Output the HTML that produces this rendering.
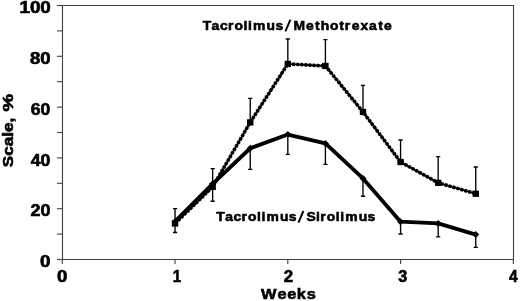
<!DOCTYPE html>
<html><head><meta charset="utf-8"><style>
html,body{margin:0;padding:0;background:#fff;}
body{width:520px;height:301px;overflow:hidden;font-family:"Liberation Sans",sans-serif;}
svg{display:block;will-change:transform;}
</style></head><body>
<svg width="520" height="301" viewBox="0 0 520 301">
<path d="M62.5 5.5H513.5V259.5H62.5Z" fill="none" stroke="#404040" stroke-width="1.1"/>
<path d="M57 259.50H62.5" stroke="#404040" stroke-width="1.1"/>
<path d="M57 234.10H62.5" stroke="#404040" stroke-width="1.1"/>
<path d="M57 208.70H62.5" stroke="#404040" stroke-width="1.1"/>
<path d="M57 183.30H62.5" stroke="#404040" stroke-width="1.1"/>
<path d="M57 157.90H62.5" stroke="#404040" stroke-width="1.1"/>
<path d="M57 132.50H62.5" stroke="#404040" stroke-width="1.1"/>
<path d="M57 107.10H62.5" stroke="#404040" stroke-width="1.1"/>
<path d="M57 81.70H62.5" stroke="#404040" stroke-width="1.1"/>
<path d="M57 56.30H62.5" stroke="#404040" stroke-width="1.1"/>
<path d="M57 30.90H62.5" stroke="#404040" stroke-width="1.1"/>
<path d="M57 5.50H62.5" stroke="#404040" stroke-width="1.1"/>
<path d="M62.30 259.5V264" stroke="#404040" stroke-width="1.1"/>
<path d="M175.06 259.5V264" stroke="#404040" stroke-width="1.1"/>
<path d="M287.82 259.5V264" stroke="#404040" stroke-width="1.1"/>
<path d="M400.58 259.5V264" stroke="#404040" stroke-width="1.1"/>
<path d="M513.34 259.5V264" stroke="#404040" stroke-width="1.1"/>
<path d="M175.06 223.43V208.60M172.96 208.60H177.16" stroke="#000" stroke-width="1.35" fill="none"/>
<path d="M175.06 221.40V232.50M172.96 232.50H177.16" stroke="#000" stroke-width="1.35" fill="none"/>
<path d="M212.65 186.86V168.60M210.55 168.60H214.75" stroke="#000" stroke-width="1.35" fill="none"/>
<path d="M212.65 183.81V201.20M210.55 201.20H214.75" stroke="#000" stroke-width="1.35" fill="none"/>
<path d="M250.23 122.34V98.30M248.13 98.30H252.33" stroke="#000" stroke-width="1.35" fill="none"/>
<path d="M250.23 148.25V169.30M248.13 169.30H252.33" stroke="#000" stroke-width="1.35" fill="none"/>
<path d="M287.82 63.92V39.00M285.72 39.00H289.92" stroke="#000" stroke-width="1.35" fill="none"/>
<path d="M287.82 134.53V154.30M285.72 154.30H289.92" stroke="#000" stroke-width="1.35" fill="none"/>
<path d="M325.41 65.95V39.60M323.31 39.60H327.51" stroke="#000" stroke-width="1.35" fill="none"/>
<path d="M325.41 143.42V164.40M323.31 164.40H327.51" stroke="#000" stroke-width="1.35" fill="none"/>
<path d="M362.99 111.93V85.30M360.89 85.30H365.09" stroke="#000" stroke-width="1.35" fill="none"/>
<path d="M362.99 178.47V196.20M360.89 196.20H365.09" stroke="#000" stroke-width="1.35" fill="none"/>
<path d="M400.58 161.96V140.00M398.48 140.00H402.68" stroke="#000" stroke-width="1.35" fill="none"/>
<path d="M400.58 221.65V234.00M398.48 234.00H402.68" stroke="#000" stroke-width="1.35" fill="none"/>
<path d="M438.17 182.79V156.60M436.07 156.60H440.27" stroke="#000" stroke-width="1.35" fill="none"/>
<path d="M438.17 223.43V236.90M436.07 236.90H440.27" stroke="#000" stroke-width="1.35" fill="none"/>
<path d="M475.75 193.71V167.00M473.65 167.00H477.85" stroke="#000" stroke-width="1.35" fill="none"/>
<path d="M475.75 234.61V247.40M473.65 247.40H477.85" stroke="#000" stroke-width="1.35" fill="none"/>
<polyline points="175.06,221.40 212.65,183.81 250.23,148.25 287.82,134.53 325.41,143.42 362.99,178.47 400.58,221.65 438.17,223.43 475.75,234.61" fill="none" stroke="#000" stroke-width="3.8" stroke-linejoin="round"/>
<path d="M175.06 217.90L178.56 221.40L175.06 224.90L171.56 221.40Z" fill="#000"/>
<path d="M212.65 180.31L216.15 183.81L212.65 187.31L209.15 183.81Z" fill="#000"/>
<path d="M250.23 144.75L253.73 148.25L250.23 151.75L246.73 148.25Z" fill="#000"/>
<path d="M287.82 131.03L291.32 134.53L287.82 138.03L284.32 134.53Z" fill="#000"/>
<path d="M325.41 139.92L328.91 143.42L325.41 146.92L321.91 143.42Z" fill="#000"/>
<path d="M362.99 174.97L366.49 178.47L362.99 181.97L359.49 178.47Z" fill="#000"/>
<path d="M400.58 218.15L404.08 221.65L400.58 225.15L397.08 221.65Z" fill="#000"/>
<path d="M438.17 219.93L441.67 223.43L438.17 226.93L434.67 223.43Z" fill="#000"/>
<path d="M475.75 231.11L479.25 234.61L475.75 238.11L472.25 234.61Z" fill="#000"/>
<polyline points="175.06,223.43 212.65,186.86 250.23,122.34 287.82,63.92 325.41,65.95 362.99,111.93 400.58,161.96 438.17,182.79 475.75,193.71" fill="none" stroke="#000" stroke-width="1.9" stroke-linejoin="miter"/>
<polyline points="175.06,223.43 212.65,186.86 250.23,122.34 287.82,63.92 325.41,65.95 362.99,111.93 400.58,161.96 438.17,182.79 475.75,193.71" fill="none" stroke="#000" stroke-width="3.5" stroke-dasharray="2.9 1.2" stroke-linejoin="miter"/>
<rect x="171.86" y="220.33" width="6.4" height="6.3" fill="#000"/>
<rect x="209.45" y="183.76" width="6.4" height="6.3" fill="#000"/>
<rect x="247.03" y="119.24" width="6.4" height="6.3" fill="#000"/>
<rect x="284.62" y="60.82" width="6.4" height="6.3" fill="#000"/>
<rect x="322.21" y="62.85" width="6.4" height="6.3" fill="#000"/>
<rect x="359.79" y="108.83" width="6.4" height="6.3" fill="#000"/>
<rect x="397.38" y="158.86" width="6.4" height="6.3" fill="#000"/>
<rect x="434.97" y="179.69" width="6.4" height="6.3" fill="#000"/>
<rect x="472.55" y="190.61" width="6.4" height="6.3" fill="#000"/>
<text transform="translate(40.50 267.24) scale(1.1844 1)" x="-0.37" y="0" font-family="Liberation Sans, sans-serif" font-weight="bold" stroke="#000" stroke-width="0.6" font-size="15.8">0</text>
<text transform="translate(30.80 216.44) scale(1.1356 1)" x="-0.28" y="0" font-family="Liberation Sans, sans-serif" font-weight="bold" stroke="#000" stroke-width="0.6" font-size="15.8">20</text>
<text transform="translate(30.80 165.64) scale(1.1146 1)" x="0.03" y="0" font-family="Liberation Sans, sans-serif" font-weight="bold" stroke="#000" stroke-width="0.6" font-size="15.8">40</text>
<text transform="translate(31.20 114.84) scale(1.1072 1)" x="-0.31" y="0" font-family="Liberation Sans, sans-serif" font-weight="bold" stroke="#000" stroke-width="0.6" font-size="15.8">60</text>
<text transform="translate(30.20 64.04) scale(1.1750 1)" x="-0.25" y="0" font-family="Liberation Sans, sans-serif" font-weight="bold" stroke="#000" stroke-width="0.6" font-size="15.8">80</text>
<text transform="translate(20.30 13.24) scale(1.1934 1)" x="-0.74" y="0" font-family="Liberation Sans, sans-serif" font-weight="bold" stroke="#000" stroke-width="0.6" font-size="15.8">100</text>
<text transform="translate(57.30 281.70) scale(1.1778 1)" x="-0.37" y="0" font-family="Liberation Sans, sans-serif" font-weight="bold" stroke="#000" stroke-width="0.6" font-size="15.8">0</text>
<text transform="translate(173.30 281.70) scale(0.9589 1)" x="-0.68" y="0" font-family="Liberation Sans, sans-serif" font-weight="bold" stroke="#000" stroke-width="0.6" font-size="15.8">1</text>
<text transform="translate(284.00 281.70) scale(1.0714 1)" x="-0.27" y="0" font-family="Liberation Sans, sans-serif" font-weight="bold" stroke="#000" stroke-width="0.6" font-size="15.8">2</text>
<text transform="translate(398.30 281.70) scale(1.0250 1)" x="-0.07" y="0" font-family="Liberation Sans, sans-serif" font-weight="bold" stroke="#000" stroke-width="0.6" font-size="15.8">3</text>
<text transform="translate(509.00 281.70) scale(0.9807 1)" x="0.07" y="0" font-family="Liberation Sans, sans-serif" font-weight="bold" stroke="#000" stroke-width="0.6" font-size="15.8">4</text>
<text transform="translate(260.80 298.80) scale(1.0800 1)" x="0.26 15.48 24.60 33.27 42.54" y="0" font-family="Liberation Sans, sans-serif" font-weight="bold" stroke="#000" stroke-width="0.6" font-size="15.2">Weeks</text>
<text transform="translate(13.10 167.10) rotate(-90) scale(1.1223 1)" x="-0.17" y="0" font-family="Liberation Sans, sans-serif" font-weight="bold" stroke="#000" stroke-width="0.6" font-size="15.3">Scale,</text>
<text transform="translate(13.10 111.40) rotate(-90) scale(1.2949 1)" x="-0.15" y="0" font-family="Liberation Sans, sans-serif" font-weight="bold" stroke="#000" stroke-width="0.6" font-size="15.3">%</text>
<text transform="translate(202.50 29.70) scale(1.0300 1)" x="0.14 8.85 17.00 24.74 31.10 39.89 44.24 48.97 62.14 70.81" y="0" font-family="Liberation Sans, sans-serif" font-weight="bold" stroke="#000" stroke-width="0.6" font-size="13.5">Tacrolimus</text>
<path d="M285.4 31.4L290.4 19.7" stroke="#000" stroke-width="1.95"/>
<text transform="translate(294.20 29.70) scale(1.0300 1)" x="-0.61 11.50 20.19 25.71 34.68 43.85 49.20 55.79 64.33 72.61 81.52 87.13" y="0" font-family="Liberation Sans, sans-serif" font-weight="bold" stroke="#000" stroke-width="0.6" font-size="13.5">Methotrexate</text>
<text transform="translate(216.20 220.90) scale(1.0300 1)" x="0.14 8.81 16.93 24.64 30.98 39.74 44.06 48.76 61.89 70.52" y="0" font-family="Liberation Sans, sans-serif" font-weight="bold" stroke="#000" stroke-width="0.6" font-size="13.5">Tacrolimus</text>
<path d="M298.4 222.7L303.4 211.0" stroke="#000" stroke-width="1.95"/>
<text transform="translate(306.60 220.90) scale(1.0300 1)" x="-0.10 9.12 13.32 19.65 28.40 32.73 37.41 50.53 59.16" y="0" font-family="Liberation Sans, sans-serif" font-weight="bold" stroke="#000" stroke-width="0.6" font-size="13.5">Sirolimus</text>
</svg>
</body></html>
